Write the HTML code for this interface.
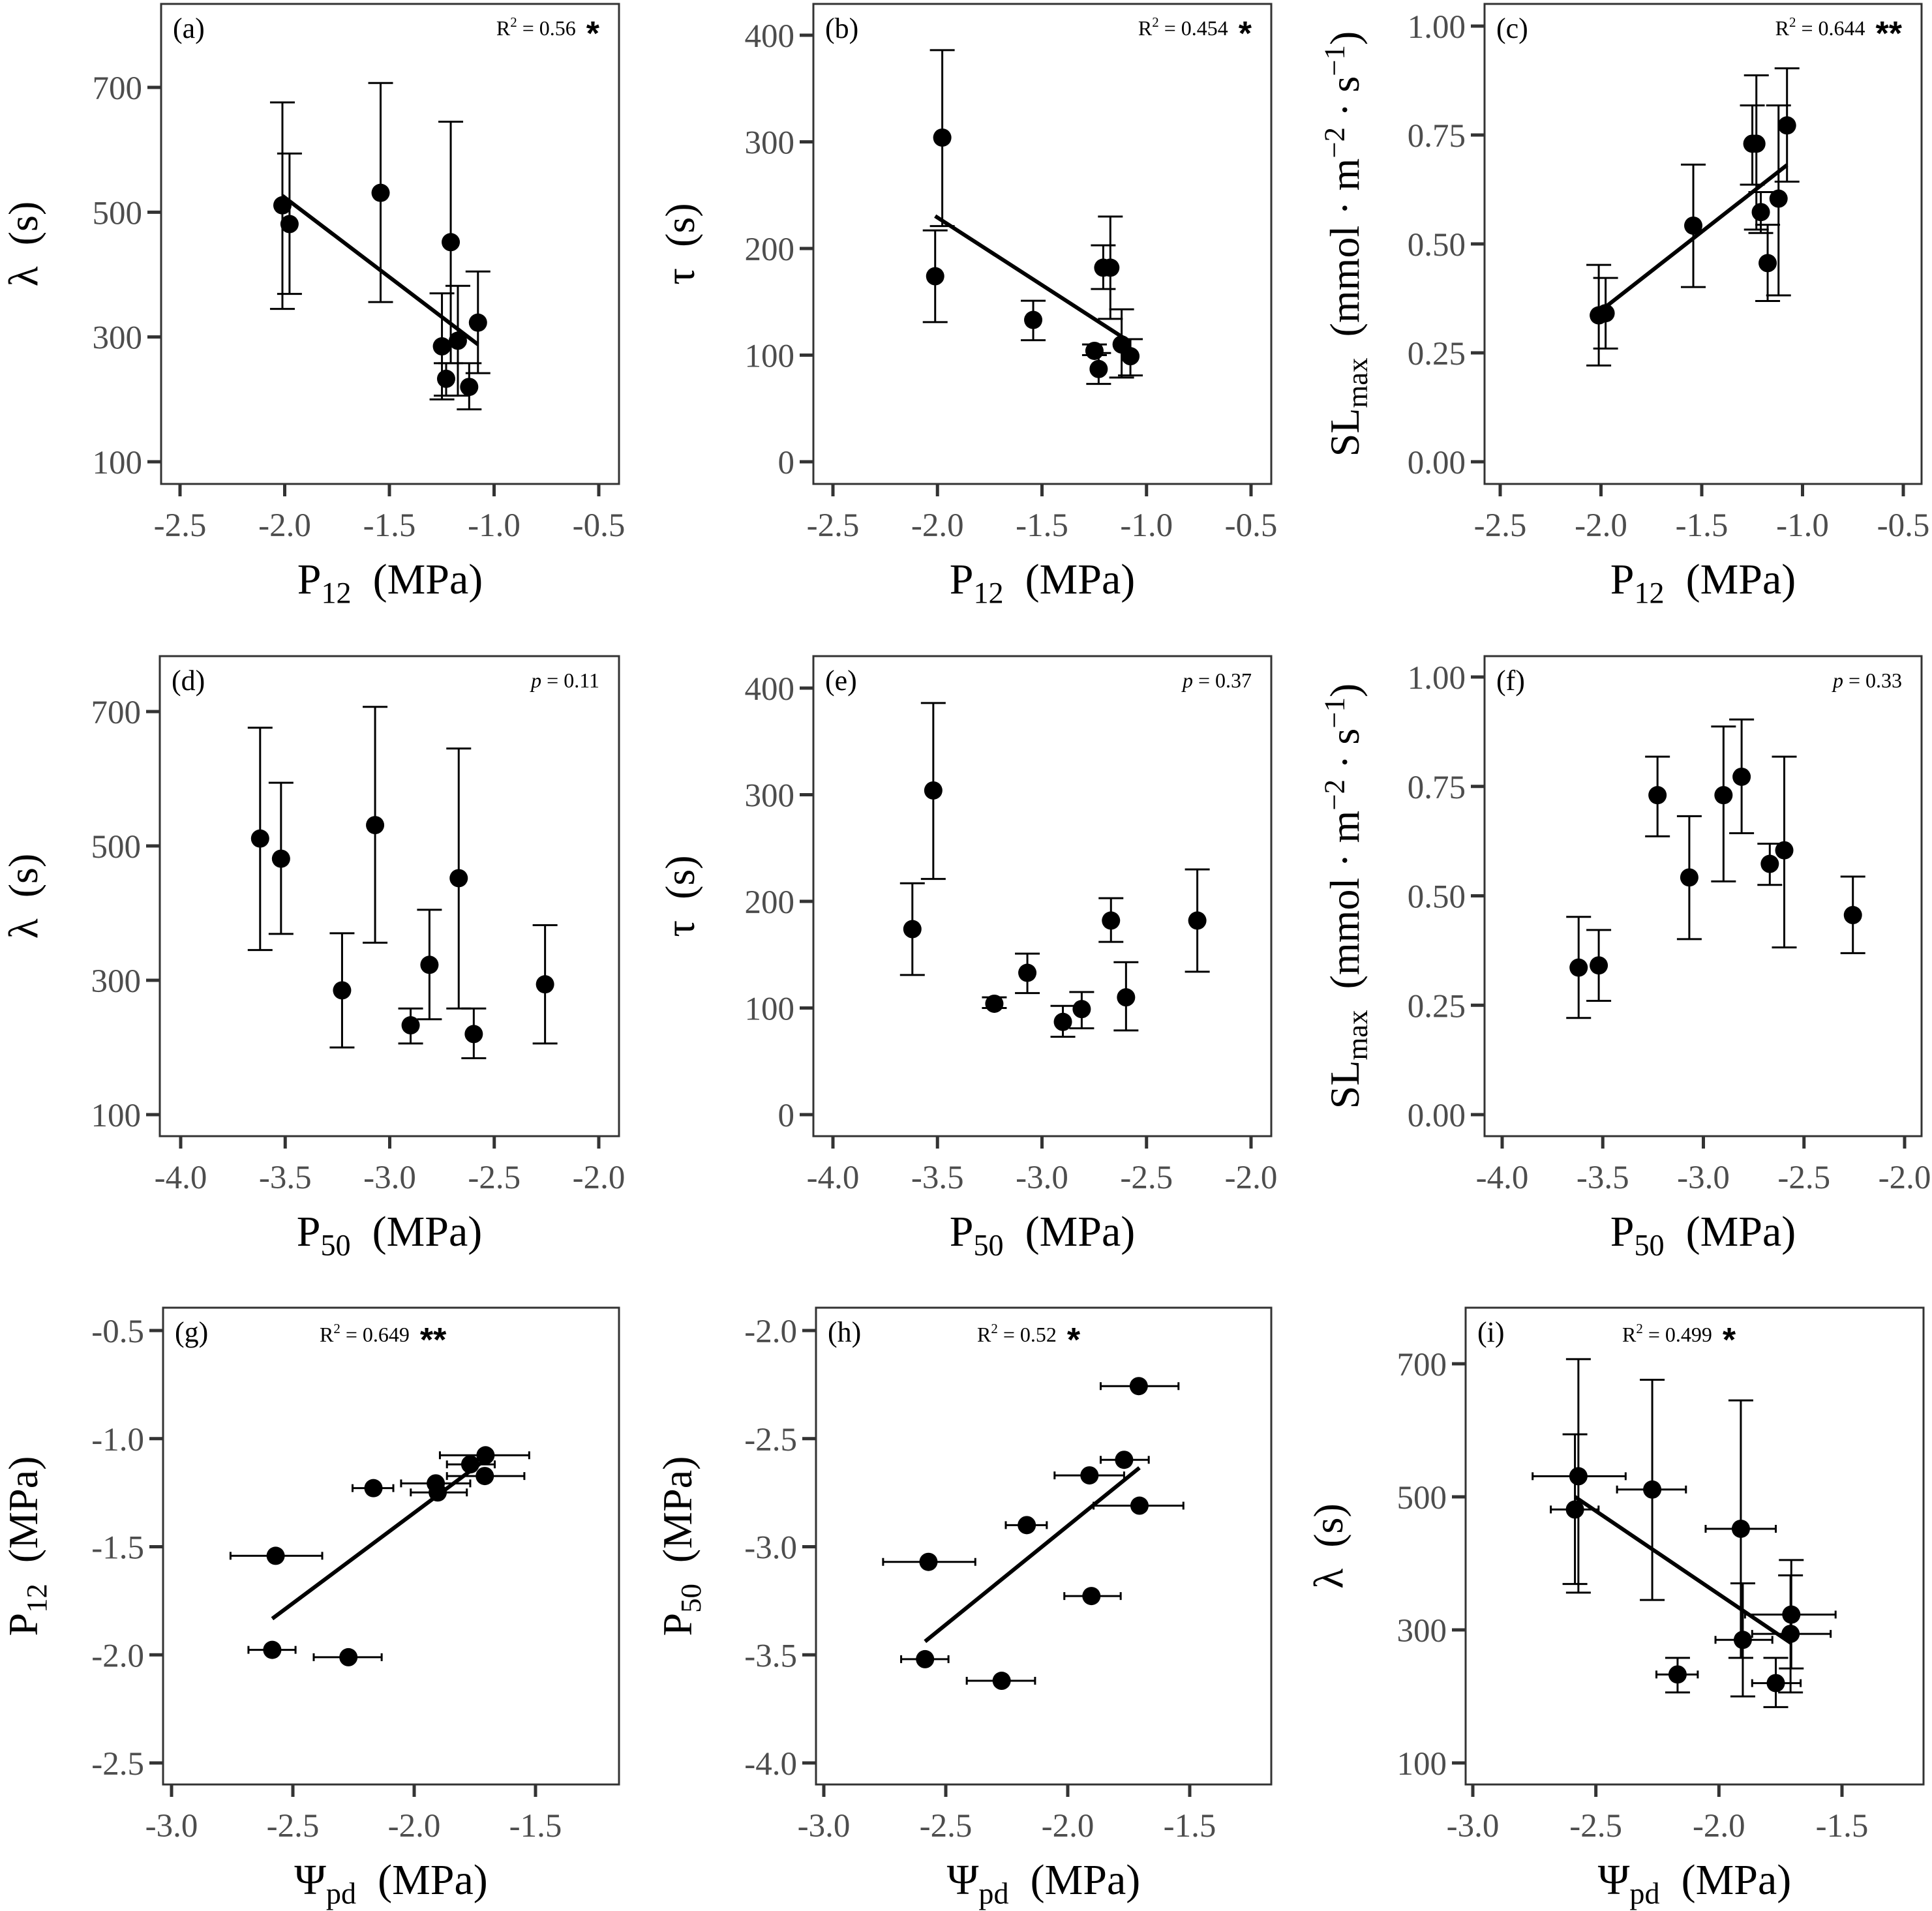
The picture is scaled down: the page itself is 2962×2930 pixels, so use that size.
<!DOCTYPE html>
<html><head><meta charset="utf-8">
<style>
html,body{margin:0;padding:0;background:#fff;}
svg{display:block;}
text{font-family:"Liberation Serif","DejaVu Serif",serif;}
</style></head>
<body>
<svg id="fig" xmlns="http://www.w3.org/2000/svg" width="2962" height="2930" viewBox="0 0 2962 2930"></svg>
<script>
// Species data (9 species)
const P12 = [-2.011,-1.977,-1.542,-1.207,-1.077,-1.249,-1.173,-1.229,-1.119];
const P50 = [-3.62,-3.52,-3.07,-2.67,-2.81,-3.228,-2.257,-2.90,-2.598];
const PSI = [-2.271,-2.585,-2.571,-1.911,-1.706,-1.903,-1.709,-2.168,-1.769];
const PSI_LO = [-2.414,-2.683,-2.757,-2.054,-1.894,-2.014,-1.865,-2.254,-1.865];
const PSI_HI = [-2.134,-2.489,-2.379,-1.769,-1.526,-1.783,-1.546,-2.086,-1.668];
const LAM = [511,481,531,452,323,285,294,233,220];
const LAM_LO = [345,369,356,258,242,200,206,206,184];
const LAM_HI = [676,594,707,645,405,370,382,258,258];
const TAU = [174,304,133,182,99,104,182,87,110];
const TAU_LO = [131,221,114,162,81,100,134,73,79];
const TAU_HI = [217,386,151,203,115,110,230,102,143];
const SL = [0.336,0.341,0.542,0.573,0.772,0.730,0.456,0.730,0.604];
const SL_LO = [0.221,0.260,0.401,0.525,0.643,0.636,0.369,0.533,0.382];
const SL_HI = [0.452,0.422,0.682,0.619,0.903,0.818,0.544,0.887,0.818];
// Tick labels
const TICKS_P12X = ["-2.5","-2.0","-1.5","-1.0","-0.5"];
const TICKS_P50X = ["-4.0","-3.5","-3.0","-2.5","-2.0"];
const TICKS_PSIX = ["-3.0","-2.5","-2.0","-1.5"];
const TICKS_LAM = ["100","300","500","700"];
const TICKS_TAU = ["0","100","200","300","400"];
const TICKS_SL = ["0.00","0.25","0.50","0.75","1.00"];
const TICKS_P12Y = ["-2.5","-2.0","-1.5","-1.0","-0.5"];
const TICKS_P50Y = ["-4.0","-3.5","-3.0","-2.5","-2.0"];

const NS="http://www.w3.org/2000/svg";
const svg=document.getElementById('fig');
function el(tag,attrs,parent){const e=document.createElementNS(NS,tag);for(const k in attrs)e.setAttribute(k,attrs[k]);(parent||svg).appendChild(e);return e;}
function lin(v0,p0,v1,p1){return v=>p0+(v-v0)*(p1-p0)/(v1-v0);}
const NB='\u00a0';

const panels=[
 {id:'a',x:P12,y:LAM,ylo:LAM_LO,yhi:LAM_HI,fit:true,box:[247,6,949,742],xs:[-2.5,276,-0.5,918],ys:[700,134,100,708],xt:TICKS_P12X,yt:TICKS_LAM,xt_title:'P12',yt_title:'lam',ytx:35,stat:['R','0.56','*'],statPos:'right'},
 {id:'b',x:P12,y:TAU,ylo:TAU_LO,yhi:TAU_HI,fit:true,box:[1247,6,1949,742],xs:[-2.5,1277,-0.5,1918],ys:[400,54,0,708],xt:TICKS_P12X,yt:TICKS_TAU,xt_title:'P12',yt_title:'tau',ytx:1042,stat:['R','0.454','*'],statPos:'right'},
 {id:'c',x:P12,y:SL,ylo:SL_LO,yhi:SL_HI,fit:true,box:[2276,6,2946,742],xs:[-2.5,2300,-0.5,2918],ys:[1,40,0,708],xt:TICKS_P12X,yt:TICKS_SL,xt_title:'P12',yt_title:'sl',ytx:2061,stat:['R','0.644','**'],statPos:'right'},
 {id:'d',x:P50,y:LAM,ylo:LAM_LO,yhi:LAM_HI,fit:false,box:[245,1006,949,1742],xs:[-4,277,-2,918],ys:[700,1091,100,1709],xt:TICKS_P50X,yt:TICKS_LAM,xt_title:'P50',yt_title:'lam',ytx:35,stat:['p','0.11'],statPos:'right'},
 {id:'e',x:P50,y:TAU,ylo:TAU_LO,yhi:TAU_HI,fit:false,box:[1247,1006,1949,1742],xs:[-4,1277,-2,1918],ys:[400,1055,0,1709],xt:TICKS_P50X,yt:TICKS_TAU,xt_title:'P50',yt_title:'tau',ytx:1042,stat:['p','0.37'],statPos:'right'},
 {id:'f',x:P50,y:SL,ylo:SL_LO,yhi:SL_HI,fit:false,box:[2276,1006,2946,1742],xs:[-4,2303,-2,2920],ys:[1,1038,0,1709],xt:TICKS_P50X,yt:TICKS_SL,xt_title:'P50',yt_title:'sl',ytx:2061,stat:['p','0.33'],statPos:'right'},
 {id:'g',x:PSI,y:P12,xlo:PSI_LO,xhi:PSI_HI,fit:true,box:[250,2005,949,2736],xs:[-3,263,-1.5,821],ys:[-0.5,2040,-2.5,2703],xt:TICKS_PSIX,yt:TICKS_P12Y,xt_title:'PSI',yt_title:'P12',ytx:35,stat:['R','0.649','**'],statPos:'center',statX:490},
 {id:'h',x:PSI,y:P50,xlo:PSI_LO,xhi:PSI_HI,fit:true,box:[1251,2005,1949,2736],xs:[-3,1263,-1.5,1824],ys:[-2,2040,-4,2703],xt:TICKS_PSIX,yt:TICKS_P50Y,xt_title:'PSI',yt_title:'P50',ytx:1038,stat:['R','0.52','*'],statPos:'center',statX:1498},
 {id:'i',x:PSI,y:LAM,xlo:PSI_LO,xhi:PSI_HI,ylo:LAM_LO,yhi:LAM_HI,fit:true,box:[2247,2005,2949,2736],xs:[-3,2258,-1.5,2824],ys:[700,2091,100,2703],xt:TICKS_PSIX,yt:TICKS_LAM,xt_title:'PSI',yt_title:'lam',ytx:2036,stat:['R','0.499','*'],statPos:'center',statX:2487},
];

function addSub(t,main,sub,size,extra){
  const a=el('tspan',{},t);a.textContent=main;
  const b=el('tspan',{'font-size':size*0.7,dy:size*0.22},t);b.textContent=sub;
  const c=el('tspan',{dy:-size*0.22},t);c.textContent=extra;
}
function titleText(kind,t,size){
  if(kind==='P12')addSub(t,'P','12',size,NB+NB+'(MPa)');
  else if(kind==='P50')addSub(t,'P','50',size,NB+NB+'(MPa)');
  else if(kind==='PSI')addSub(t,'Ψ','pd',size,NB+NB+'(MPa)');
  else if(kind==='lam')t.textContent='λ'+NB+NB+'(s)';
  else if(kind==='tau')t.textContent='τ'+NB+NB+'(s)';
  else if(kind==='sl'){
    const a=el('tspan',{},t);a.textContent='SL';
    const b=el('tspan',{'font-size':size*0.7,dy:size*0.2},t);b.textContent='max';
    const c=el('tspan',{dy:-size*0.2},t);c.textContent=NB+NB+'(mmol'+NB+'·'+NB+'m';
    const d=el('tspan',{'font-size':size*0.7,dy:-size*0.35},t);d.textContent='−2';
    const e=el('tspan',{dy:size*0.35},t);e.textContent=NB+'·'+NB+'s';
    const f=el('tspan',{'font-size':size*0.7,dy:-size*0.35},t);f.textContent='−1';
    const g=el('tspan',{dy:size*0.35},t);g.textContent=')';
  }
}

panels.forEach(p=>{
  const G=el('g',{});
  
  
  const [x0,y0,x1,y1]=p.box;
  const X=lin(p.xs[0],p.xs[1],p.xs[2],p.xs[3]);
  const Y=lin(p.ys[0],p.ys[1],p.ys[2],p.ys[3]);
  const clipId='clip'+p.id;
  const cp=el('clipPath',{id:clipId},G);el('rect',{x:x0,y:y0,width:x1-x0,height:y1-y0},cp);
  const fr=el('rect',{x:x0,y:y0,width:x1-x0,height:y1-y0,fill:'#fff',stroke:'#333',"stroke-width":3},G);
  
  
  p.xt.forEach(s=>{
    const v=parseFloat(s),px=X(v);
    el('line',{x1:px,x2:px,y1:y1,y2:y1+19,stroke:'#333','stroke-width':5},G);
    const t=el('text',{x:px,y:y1+80,'text-anchor':'middle','font-size':51,fill:'#4d4d4d'},G);
    t.textContent=s;
    
    
  });
  p.yt.forEach(s=>{
    const v=parseFloat(s),py=Y(v);
    el('line',{x1:x0-21,x2:x0,y1:py,y2:py,stroke:'#333','stroke-width':5},G);
    const t=el('text',{x:x0-29,y:py+18,'text-anchor':'end','font-size':51,fill:'#4d4d4d'},G);
    t.textContent=s;
    
    
  });
  const xtt=el('text',{x:(x0+x1)/2,y:y1+168,'text-anchor':'middle','font-size':66,fill:'#000'},G);
  titleText(p.xt_title,xtt,66);
  
  
  const yc=(y0+y1)/2;
  const ytt=el('text',{x:p.ytx,y:yc,'text-anchor':'middle','font-size':64,fill:'#000',transform:`rotate(-90 ${p.ytx} ${yc}) translate(0 22)`},G);
  titleText(p.yt_title,ytt,64);
  
  
  const lt=el('text',{x:x0+18,y:y0+52,'font-size':44,fill:'#000'},G);
  lt.textContent='('+p.id+')';
  
  
  const st=el('text',{'font-size':32,fill:'#000'},G);
  if(p.stat[0]==='R'){
    const a=el('tspan',{},st);a.textContent='R';
    const b=el('tspan',{'font-size':21,dy:-13},st);b.textContent='2';
    const c=el('tspan',{dy:13},st);c.textContent=NB+'='+NB+p.stat[1]+NB+NB;
    const d=el('tspan',{'font-size':52,'font-weight':'bold','font-family':'Liberation Sans, sans-serif',dy:15},st);d.textContent=p.stat[2];
  } else {
    const a=el('tspan',{'font-style':'italic'},st);a.textContent='p';
    const b=el('tspan',{},st);b.textContent=NB+'='+NB+p.stat[1];
  }
  if(p.statPos==='right'){st.setAttribute('x',x1-30);st.setAttribute('y',y0+48);st.setAttribute('text-anchor','end');}
  else {st.setAttribute('x',p.statX);st.setAttribute('y',y0+52);}
  
  
  const M=el('g',{'clip-path':`url(#${clipId})`},G);
  if(p.fit){
    const n=p.x.length;let mx=0,my=0;for(let i=0;i<n;i++){mx+=p.x[i];my+=p.y[i];}mx/=n;my/=n;
    let sxy=0,sxx=0;for(let i=0;i<n;i++){sxy+=(p.x[i]-mx)*(p.y[i]-my);sxx+=(p.x[i]-mx)**2;}
    const b=sxy/sxx,a=my-b*mx;const xa=Math.min(...p.x),xb=Math.max(...p.x);
    const ln=el('line',{x1:X(xa),y1:Y(a+b*xa),x2:X(xb),y2:Y(a+b*xb),stroke:'#000','stroke-width':6},M);
    
    
  }
  for(let i=0;i<p.x.length;i++){
    const px=X(p.x[i]),py=Y(p.y[i]);
    if(p.ylo){
      const e=el('path',{d:`M${px},${Y(p.ylo[i])}V${Y(p.yhi[i])}M${px-19},${Y(p.ylo[i])}h38M${px-19},${Y(p.yhi[i])}h38`,stroke:'#000','stroke-width':3,fill:'none'},M);
      
      
    }
    if(p.xlo){
      const e=el('path',{d:`M${X(p.xlo[i])},${py}H${X(p.xhi[i])}M${X(p.xlo[i])},${py-6}v12M${X(p.xhi[i])},${py-6}v12`,stroke:'#000','stroke-width':3,fill:'none'},M);
      
      
    }
    const c=el('circle',{cx:px,cy:py,r:14,fill:'#000'},M);
    
    
  }
});
</script>
</body></html>
